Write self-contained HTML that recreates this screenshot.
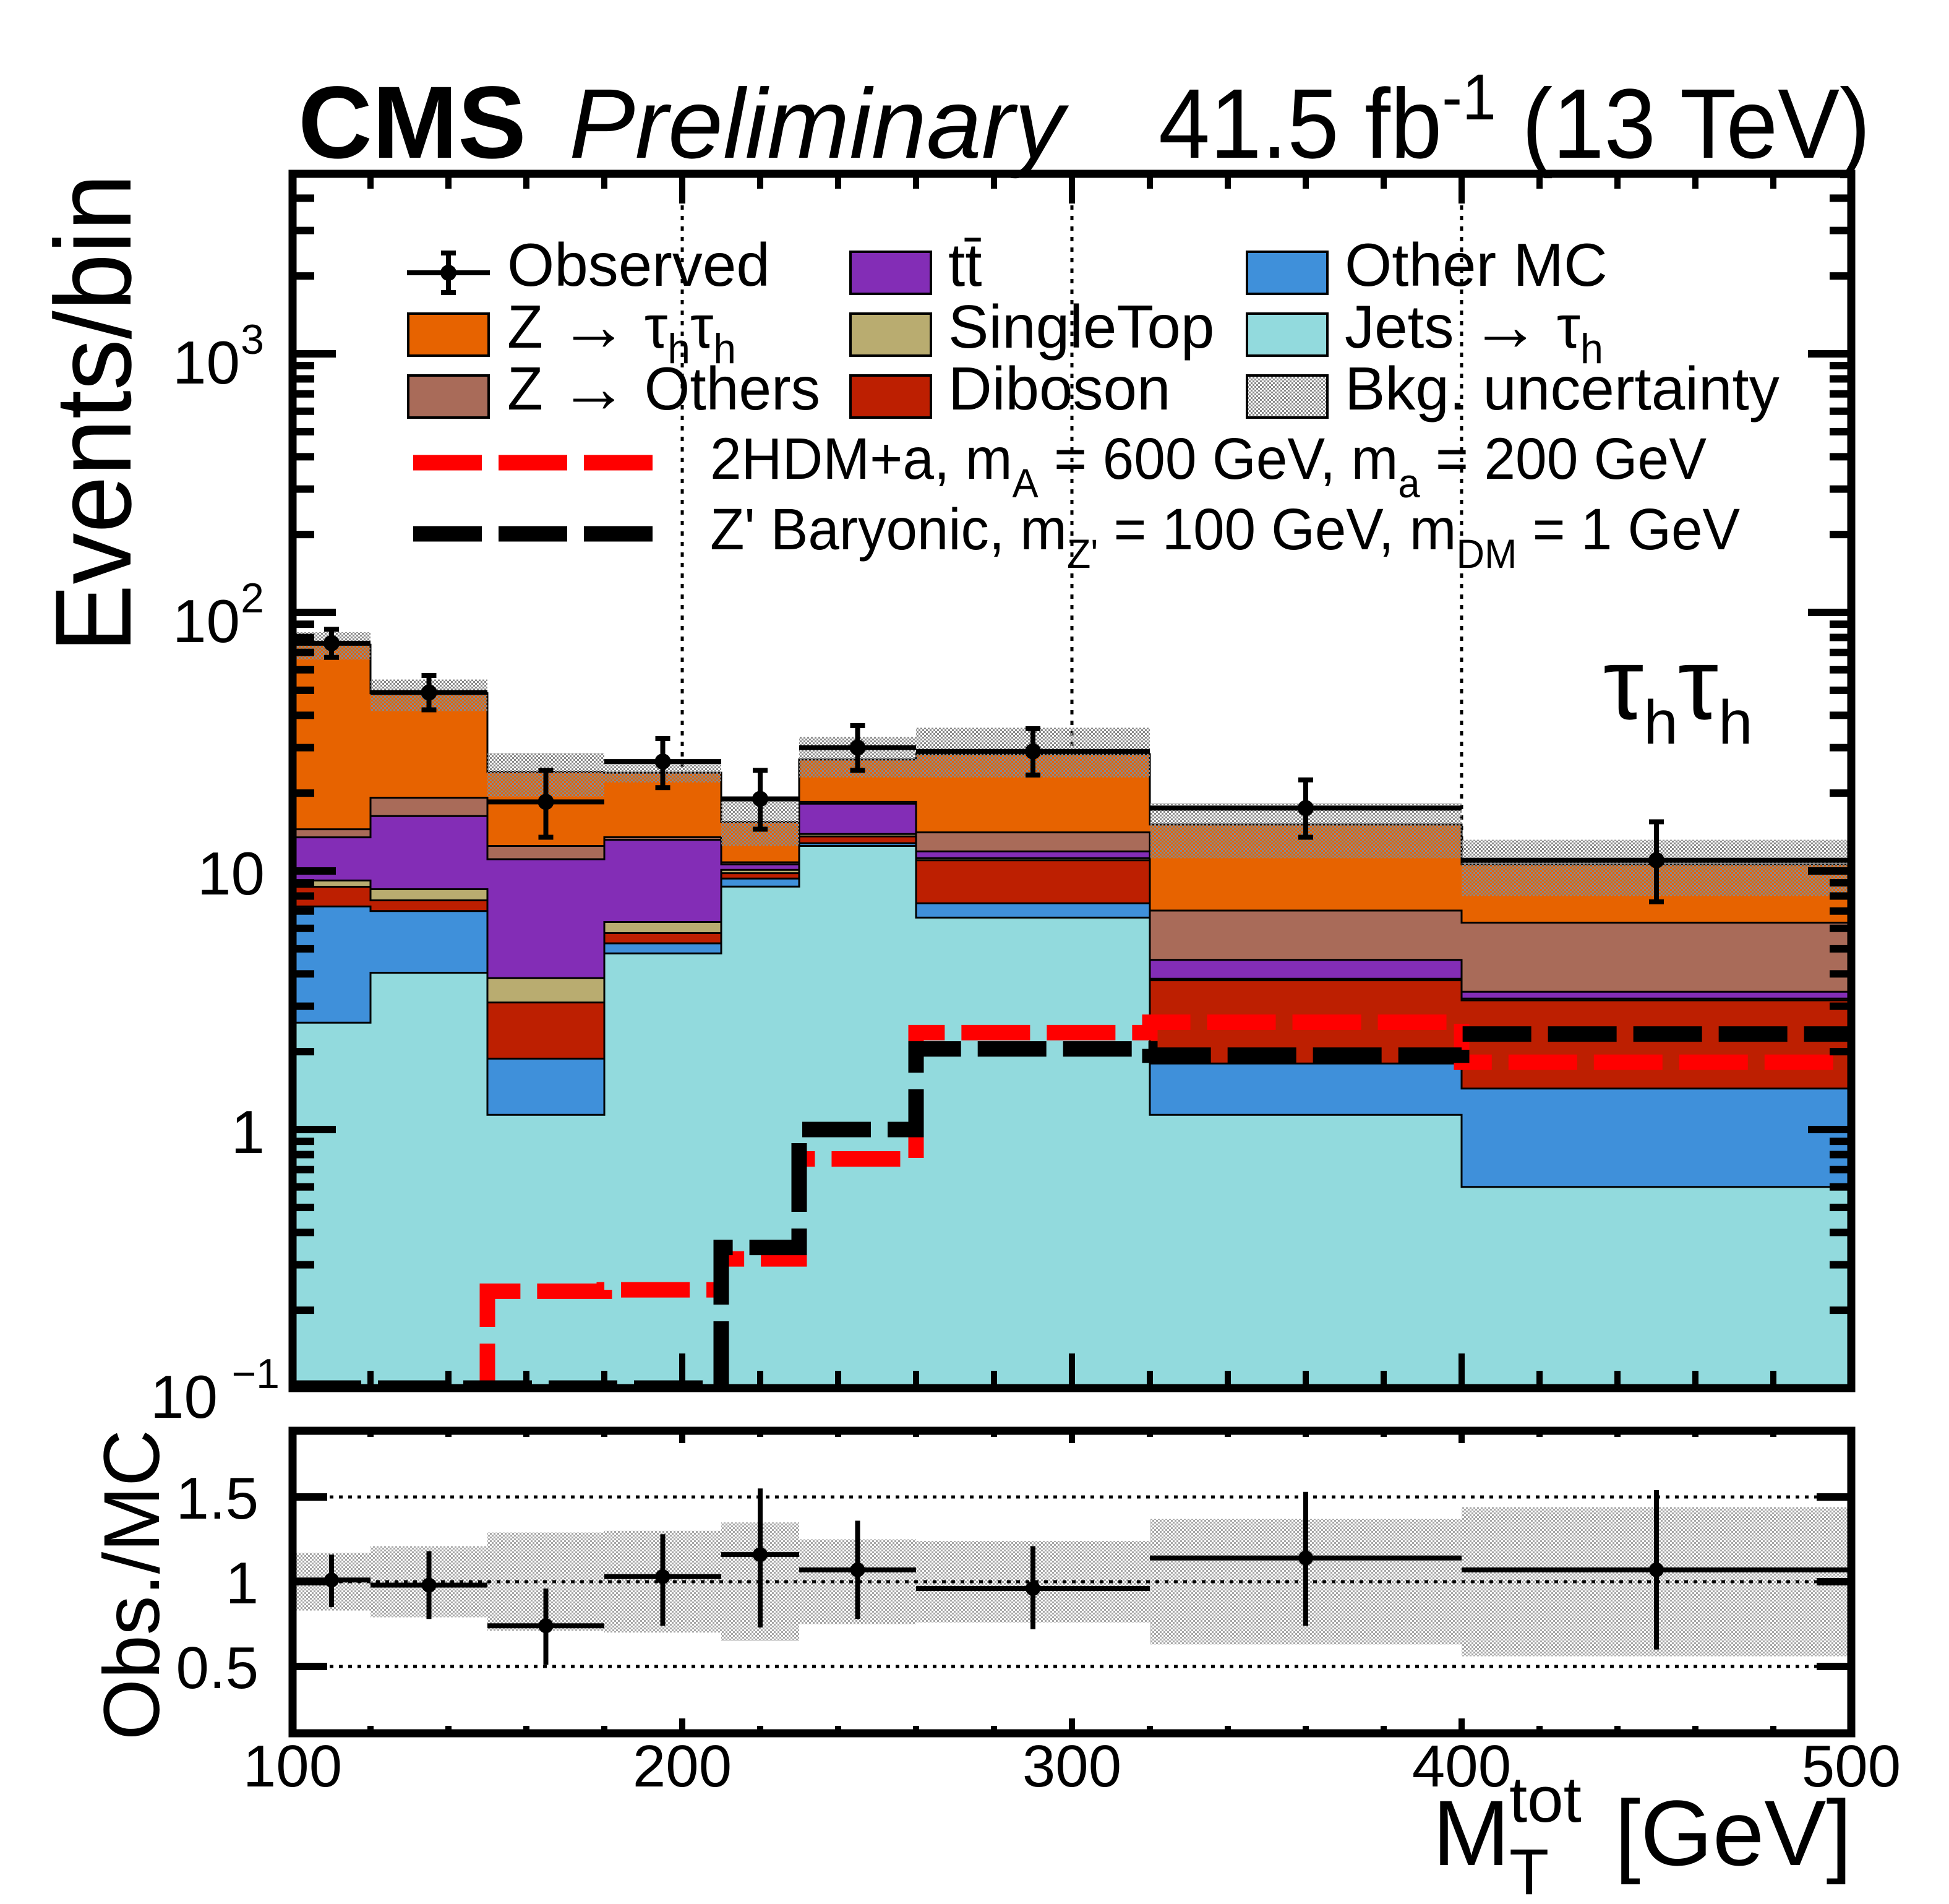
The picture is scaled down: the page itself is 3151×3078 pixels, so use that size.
<!DOCTYPE html>
<html><head><meta charset="utf-8"><style>
html,body{margin:0;padding:0;background:#fff}
svg text{font-family:"Liberation Sans",sans-serif;fill:#000}
</style></head><body>
<svg id="chart" xmlns="http://www.w3.org/2000/svg" width="3151" height="3073" viewBox="0 0 3151 3073">
<defs>
<pattern id="hatch" width="6" height="6" patternUnits="userSpaceOnUse"><rect x="0" y="0" width="3" height="3" fill="#8a8a8a"/><rect x="3" y="3" width="3" height="3" fill="#8a8a8a"/></pattern>
<clipPath id="mainclip"><rect x="473" y="281" width="2520" height="1963"/></clipPath>
<clipPath id="ratioclip"><rect x="473" y="2313" width="2520" height="489"/></clipPath>
</defs>
<rect x="0" y="0" width="3151" height="3073" fill="#fff"/>
<g id="main"></g>
<g id="ratio"></g>
<g id="axes"></g>
<g id="legend">
  <text x="482" y="255" font-size="166" font-weight="bold">CMS</text>
  <text x="920" y="255" font-size="160" font-style="italic">Preliminary</text>
  <text x="1873" y="255" font-size="160" textLength="1151" lengthAdjust="spacingAndGlyphs">41.5 fb<tspan dy="-62" font-size="105">-1</tspan><tspan dy="62"> (13 TeV)</tspan></text>
  <text transform="translate(211,1055) rotate(-90)" font-size="175" textLength="774" lengthAdjust="spacingAndGlyphs">Events/bin</text>
  <text transform="translate(257,2813) rotate(-90)" font-size="128" textLength="502" lengthAdjust="spacingAndGlyphs">Obs./MC</text>
  <text x="2316" y="3015" font-size="150">M</text>
  <text x="2440" y="2945" font-size="105">tot</text>
  <text x="2440" y="3062" font-size="105">T</text>
  <text x="2994" y="3015" font-size="150" text-anchor="end">[GeV]</text>
  <text x="2592" y="1162" font-size="165">τ<tspan font-size="100" dy="40">h</tspan><tspan dy="-40">τ</tspan><tspan font-size="100" dy="40">h</tspan></text>

  <line x1="658" y1="441" x2="792" y2="441" stroke="#000" stroke-width="8"/>
  <line x1="725" y1="409" x2="725" y2="473" stroke="#000" stroke-width="8"/>
  <line x1="713" y1="409" x2="737" y2="409" stroke="#000" stroke-width="8"/>
  <line x1="713" y1="473" x2="737" y2="473" stroke="#000" stroke-width="8"/>
  <circle cx="725" cy="441" r="13"/>
  <text x="820" y="462" font-size="98">Observed</text>

  <rect x="660" y="507" width="130" height="68" fill="#e76300" stroke="#000" stroke-width="4"/>
  <text x="820" y="562" font-size="98" textLength="370" lengthAdjust="spacingAndGlyphs">Z <tspan font-size="115" dy="4">→</tspan><tspan dy="-4"> τ</tspan><tspan font-size="68" dy="25">h</tspan><tspan dy="-25">τ</tspan><tspan font-size="68" dy="25">h</tspan></text>
  <rect x="660" y="607" width="130" height="68" fill="#a96b59" stroke="#000" stroke-width="4"/>
  <text x="820" y="662" font-size="98" textLength="506" lengthAdjust="spacingAndGlyphs">Z <tspan font-size="115" dy="4">→</tspan><tspan dy="-4"> Others</tspan></text>

  <rect x="1375" y="407" width="130" height="68" fill="#832db6" stroke="#000" stroke-width="4"/>
  <text x="1533" y="462" font-size="98">tt̄</text>
  <rect x="1375" y="507" width="130" height="68" fill="#b9ac70" stroke="#000" stroke-width="4"/>
  <text x="1533" y="562" font-size="98">SingleTop</text>
  <rect x="1375" y="607" width="130" height="68" fill="#bd1f01" stroke="#000" stroke-width="4"/>
  <text x="1533" y="662" font-size="98">Diboson</text>

  <rect x="2016" y="407" width="130" height="68" fill="#3f90da" stroke="#000" stroke-width="4"/>
  <text x="2174" y="462" font-size="98">Other MC</text>
  <rect x="2016" y="507" width="130" height="68" fill="#92dadd" stroke="#000" stroke-width="4"/>
  <text x="2174" y="562" font-size="98" textLength="418" lengthAdjust="spacingAndGlyphs">Jets <tspan font-size="115" dy="4">→</tspan><tspan dy="-4"> τ</tspan><tspan font-size="68" dy="25">h</tspan></text>
  <rect x="2016" y="607" width="130" height="68" fill="url(#hatch)" stroke="#000" stroke-width="4"/>
  <text x="2174" y="662" font-size="98">Bkg. uncertainty</text>

  <line x1="668" y1="748" x2="1057" y2="748" stroke="#ff0000" stroke-width="25" stroke-dasharray="111 27"/>
  <text x="1148" y="774" font-size="95" textLength="1611" lengthAdjust="spacingAndGlyphs">2HDM+a, m<tspan font-size="66" dy="30">A</tspan><tspan dy="-30"> = 600 GeV, m</tspan><tspan font-size="66" dy="30">a</tspan><tspan dy="-30"> = 200 GeV</tspan></text>
  <line x1="668" y1="863" x2="1057" y2="863" stroke="#000" stroke-width="25" stroke-dasharray="111 27"/>
  <text x="1148" y="888" font-size="95" textLength="1665" lengthAdjust="spacingAndGlyphs">Z' Baryonic, m<tspan font-size="66" dy="30">Z'</tspan><tspan dy="-30"> = 100 GeV, m</tspan><tspan font-size="66" dy="30">DM</tspan><tspan dy="-30"> = 1 GeV</tspan></text>
</g>
</svg>
<script>
const edges = [100,120,150,180,210,230,260,320,400,500];
const jets      = [2.59,4.04,1.14,4.8,8.7,12.5,6.6,1.14,0.6];
const otherMC   = [4.7,2.96,0.74,0.45,0.65,0.3,0.9,0.66,0.84];
const diboson   = [1.4,0.7,1.22,0.5,0.45,0.8,3.5,1.98,1.72];
const singleTop = [0.5,0.8,0.75,0.6,0.3,0.3,0.2,0.05,0.05];
const ttbar     = [4.3,7.8,7.25,6.85,0.5,4.3,0.7,0.7,0.2];
const zOthers   = [1.0,2.9,1.4,0.3,0.2,0.3,2.2,2.5,2.9];
const zTauTau   = [60.5,29.5,11.7,10.5,4.7,8.5,14.2,8.1,4.3];
const bkgUp     = [83.8,55,28.6,27,19.4,33,35.8,18.3,13.2];
const bkgDn     = [65.7,41.5,19.4,22,12.5,23,23,11.2,8.0];
const observed  = [76,49,18.5,26.5,19,30,29,17.5,11];
const obsErrUp  = [10,8,6,6,5.5,6.5,6.5,5,4.5];
const obsErrDn  = [9,7,5,5.5,4.5,5.5,5.5,4,3.4];
const ratioRelUnc = [0.17,0.21,0.29,0.3,0.35,0.25,0.24,0.37,0.44];
const ratioVals = [1.01,0.98,0.74,1.03,1.16,1.07,0.96,1.14,1.07];
const ratioErrUp = [0.15,0.2,0.22,0.25,0.39,0.29,0.25,0.39,0.47];
const ratioErrDn = [0.16,0.2,0.23,0.29,0.43,0.29,0.24,0.4,0.47];
const sig2HDM   = [0.05,0.05,0.237,0.24,0.316,0.77,2.37,2.6,1.82];
const sigZprime = [0.05,0.05,0.05,0.05,0.35,1.0,2.05,1.94,2.34];
const xTickLabels = ["100","200","300","400","500"];
const ratioTickLabels = ["0.5","1","1.5"];

const NS="http://www.w3.org/2000/svg";
const X0=473,X1=2993,YT=281,YB=2244,RT=2313,RB=2802;
function xs(v){return X0+(v-100)*(X1-X0)/400;}
function ys(v){return 1826-418*Math.log10(Math.max(v,0.1));}
function yr(r){return 2557-274*(r-1);}
function mk(parent,tag,attrs){const e=document.createElementNS(NS,tag);for(const k in attrs)e.setAttribute(k,attrs[k]);parent.appendChild(e);return e;}
const main=document.getElementById('main'), ratio=document.getElementById('ratio'), axes=document.getElementById('axes');
const mg=mk(main,'g',{'clip-path':'url(#mainclip)'});



[200,300,400].forEach(v=>{
  const l=mk(mg,'line',{x1:xs(v),x2:xs(v),y1:YT,y2:YB,stroke:'#000','stroke-width':5,'stroke-dasharray':'7 10'});
  
  
});

function stepPath(vals,fn){
  let d='M'+xs(edges[0])+' '+fn(vals[0]);
  for(let i=0;i<vals.length;i++){
    if(i>0)d+=' L'+xs(edges[i])+' '+fn(vals[i]);
    d+=' L'+xs(edges[i+1])+' '+fn(vals[i]);
  }
  return d;
}
const comps=[['jets',jets,'#92dadd'],['other-mc',otherMC,'#3f90da'],['diboson',diboson,'#bd1f01'],['single-top',singleTop,'#b9ac70'],['ttbar',ttbar,'#832db6'],['z-others',zOthers,'#a96b59'],['z-tautau',zTauTau,'#e76300']];
const cums=[];let run=edges.slice(1).map(()=>0);
comps.forEach(c=>{run=run.map((r,i)=>r+c[1][i]);cums.push(run.slice());});
for(let k=comps.length-1;k>=0;k--){
  const cv=cums[k];
  const d=stepPath(cv,ys)+' L'+xs(500)+' '+(YB+20)+' L'+xs(100)+' '+(YB+20)+' Z';
  const p=mk(mg,'path',{d:d,fill:comps[k][2],stroke:'#000','stroke-width':3});
  
  
}
bkgUp.forEach((u,i)=>{
  const yTop=ys(u), yBot=ys(bkgDn[i]);
  const r=mk(mg,'rect',{x:xs(edges[i]),y:yTop,width:xs(edges[i+1])-xs(edges[i]),height:yBot-yTop,fill:'url(#hatch)'});
  
  
});
[['signal-2hdm',sig2HDM,'#ff0000'],['signal-zprime',sigZprime,'#000']].forEach(s=>{
  const p=mk(mg,'path',{d:stepPath(s[1],ys),fill:'none',stroke:s[2],'stroke-width':25,'stroke-dasharray':'111 27'});
  
  
});
observed.forEach((o,i)=>{
  const cx=xs((edges[i]+edges[i+1])/2), cy=ys(o);
  const g=mk(main,'g',{});
  
  
  mk(g,'line',{x1:xs(edges[i]),x2:xs(edges[i+1]),y1:cy,y2:cy,stroke:'#000','stroke-width':8});
  const yu=ys(o+obsErrUp[i]), yd=ys(o-obsErrDn[i]);
  mk(g,'line',{x1:cx,x2:cx,y1:yu,y2:yd,stroke:'#000','stroke-width':8});
  mk(g,'line',{x1:cx-12,x2:cx+12,y1:yu,y2:yu,stroke:'#000','stroke-width':8});
  mk(g,'line',{x1:cx-12,x2:cx+12,y1:yd,y2:yd,stroke:'#000','stroke-width':8});
  mk(g,'circle',{cx:cx,cy:cy,r:13,fill:'#000'});
});

const rg=mk(ratio,'g',{'clip-path':'url(#ratioclip)'});


ratioRelUnc.forEach((u,i)=>{
  const r=mk(rg,'rect',{x:xs(edges[i]),y:yr(1+u),width:xs(edges[i+1])-xs(edges[i]),height:yr(1-u)-yr(1+u),fill:'url(#hatch)',opacity:0.75});
  
  
});
ratioTickLabels.forEach(t=>{
  const l=mk(rg,'line',{x1:X0,x2:X1,y1:yr(+t),y2:yr(+t),stroke:'#000','stroke-width':5,'stroke-dasharray':'6 9'});
  
  
});
ratioVals.forEach((r,i)=>{
  const cx=xs((edges[i]+edges[i+1])/2), cy=yr(r);
  const g=mk(ratio,'g',{});
  
  
  mk(g,'line',{x1:xs(edges[i]),x2:xs(edges[i+1]),y1:cy,y2:cy,stroke:'#000','stroke-width':8});
  mk(g,'line',{x1:cx,x2:cx,y1:yr(r+ratioErrUp[i]),y2:yr(r-ratioErrDn[i]),stroke:'#000','stroke-width':8});
  mk(g,'circle',{cx:cx,cy:cy,r:12,fill:'#000'});
});

function ln(x1,y1,x2,y2,w,name){const l=mk(axes,'line',{x1:x1,y1:y1,x2:x2,y2:y2,stroke:'#000','stroke-width':w});return l;}
[[YT,YB],[RT,RB]].forEach((f,j)=>{
  const r=mk(axes,'rect',{x:X0,y:f[0],width:X1-X0,height:f[1]-f[0],fill:'none',stroke:'#000','stroke-width':13});
  
  
});
for(let v=100;v<=500;v+=20){
  const major=(v%100===0), x=xs(v);
  ln(x,YB,x,YB-(major?56:28),10,'x-tick');
  ln(x,YT,x,YT+(major?48:24),10,'x-tick-top');
  ln(x,RB,x,RB-(major?24:12),10,'ratio-x-tick');
  ln(x,RT,x,RT+(major?20:10),10,'ratio-x-tick-top');
}
for(let e=-1;e<=3;e++){
  for(let m=1;m<=9;m++){
    const v=m*Math.pow(10,e); if(v>4966)continue;
    const y=ys(v), L=(m===1?70:35);
    ln(X0,y,X0+L,y,12,'y-tick'); ln(X1,y,X1-L,y,12,'y-tick-right');
  }
}
ratioTickLabels.forEach(t=>{const y=yr(+t);ln(X0,y,X0+56,y,12,'ratio-y-tick');ln(X1,y,X1-56,y,12,'ratio-y-tick-right');});

function txt(x,y,s,size,anchor,name){const t=mk(axes,'text',{x:x,y:y,'font-size':size,'text-anchor':anchor});t.textContent=s;return t;}
xTickLabels.forEach(s=>{txt(xs(+s),2888,s,96,'middle','x-tick-label');});
ratioTickLabels.forEach(s=>{txt(418,yr(+s)+35,s,96,'end','ratio-y-tick-label');});
txt(428,ys(1)+38,'1',98,'end','y-tick-label');
txt(428,ys(10)+38,'10',98,'end','y-tick-label');
[[2,'2'],[3,'3']].forEach(p=>{
  const y=ys(Math.pow(10,p[0]));
  txt(388,y+48,'10',98,'end','y-tick-label');
  txt(427,y,p[1],68,'end','y-tick-label-exponent');
});
txt(352,YB+48,'10',98,'end','y-tick-label');
txt(452,YB,'−1',68,'end','y-tick-label-exponent');
</script>
</body></html>
